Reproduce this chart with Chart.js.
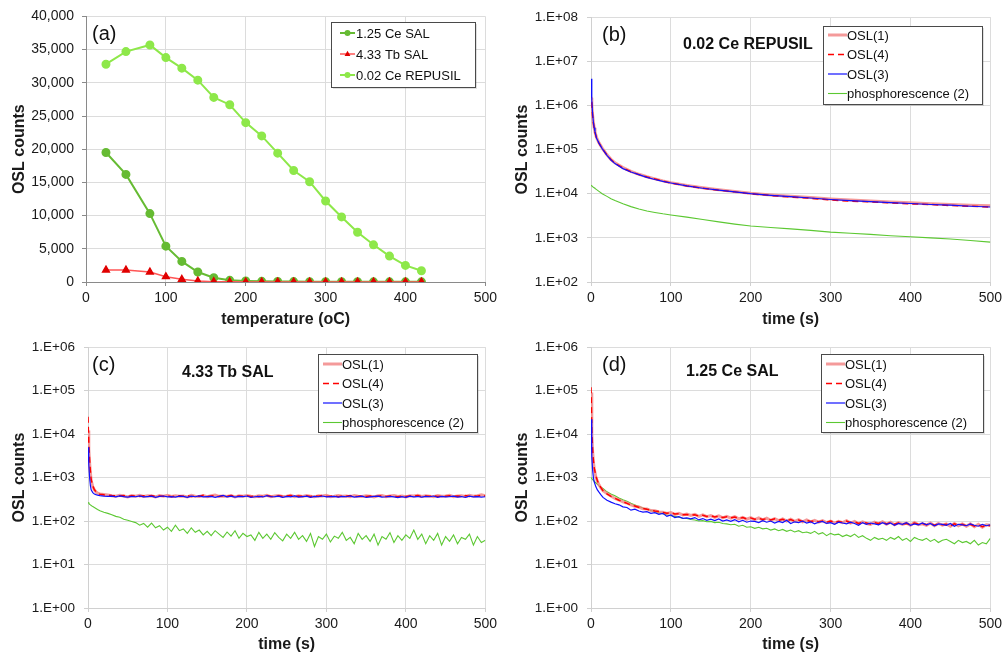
<!DOCTYPE html>
<html>
<head>
<meta charset="utf-8">
<script src="https://cdn.jsdelivr.net/npm/chart.js@4.4.1/dist/chart.umd.min.js"></script>
<style>
  body { margin: 0; background: #fff; width: 1006px; height: 654px; position: relative; overflow: hidden; }
  canvas { position: absolute; }
</style>
</head>
<body>
<canvas id="chartA" width="501" height="330" style="left:0;top:0"></canvas>
<canvas id="chartB" width="503" height="330" style="left:503px;top:0"></canvas>
<canvas id="chartC" width="501" height="324" style="left:0;top:330px"></canvas>
<canvas id="chartD" width="503" height="324" style="left:503px;top:330px"></canvas>
<script>
// ---------- (a) OSL vs temperature ----------
const temps = [25, 50, 80, 100, 120, 140, 160, 180, 200, 220, 240, 260, 280, 300, 320, 340, 360, 380, 400, 420];
const ceSal125 = [19500, 16200, 10300, 5400, 3100, 1500, 650, 250, 150, 100, 80, 60, 50, 40, 30, 30, 20, 20, 20, 20];
const tbSal433 = [1800, 1800, 1500, 800, 400, 150, 50, 20, 10, 5, 0, 0, 0, 0, 0, 0, 0, 0, 0, 0];
const ceRepusil = [32800, 34700, 35700, 33800, 32200, 30400, 27800, 26700, 24000, 22000, 19400, 16800, 15100, 12200, 9800, 7500, 5600, 3900, 2500, 1700];

// ---------- (b) 0.02 Ce REPUSIL decay ----------
const tB = [0, 1, 2, 3, 4, 5, 7, 10, 14, 20, 25, 30, 40, 50, 60, 70, 80, 90, 100, 120, 140, 160, 180, 200,
  225, 250, 275, 300, 325, 350, 375, 400, 425, 450, 475, 500];
const bOsl1 = [1.5e6, 1.0e6, 6e5, 4.1e5, 3.1e5, 2.5e5, 1.85e5, 1.42e5, 1.08e5, 7.6e4, 6e4, 5e4, 3.9e4, 3.2e4, 2.75e4, 2.42e4, 2.17e4, 1.95e4, 1.78e4, 1.53e4, 1.36e4, 1.23e4, 1.12e4, 1.02e4,
  9.4e3, 8.8e3, 8.2e3, 7.6e3, 7.2e3, 6.8e3, 6.5e3, 6.2e3, 5.9e3, 5.7e3, 5.5e3, 5.3e3];
const bOsl4 = [2e6, 1.1e6, 6e5, 4e5, 3e5, 2.45e5, 1.8e5, 1.4e5, 1.06e5, 7.5e4, 5.9e4, 4.9e4, 3.8e4, 3.15e4, 2.7e4, 2.4e4, 2.15e4, 1.92e4, 1.75e4, 1.5e4, 1.33e4, 1.2e4, 1.1e4, 9.9e3,
  9.1e3, 8.4e3, 7.9e3, 7.2e3, 6.8e3, 6.5e3, 6.2e3, 5.9e3, 5.7e3, 5.4e3, 5.2e3, 5.0e3];
const bOsl3 = [4e6, 1.3e6, 6.5e5, 4.2e5, 3.1e5, 2.5e5, 1.8e5, 1.4e5, 1.05e5, 7.4e4, 5.8e4, 4.8e4, 3.7e4, 3.1e4, 2.7e4, 2.35e4, 2.1e4, 1.9e4, 1.75e4, 1.5e4, 1.33e4, 1.2e4, 1.1e4, 1.0e4,
  9.2e3, 8.6e3, 8.0e3, 7.4e3, 7.0e3, 6.6e3, 6.3e3, 6.0e3, 5.7e3, 5.5e3, 5.2e3, 5.0e3];
const bPhos = [1.55e4, 1.5e4, 1.45e4, 1.4e4, 1.36e4, 1.32e4, 1.24e4, 1.13e4, 1.0e4, 8.7e3, 7.7e3, 7.0e3, 5.9e3, 5.1e3, 4.5e3, 4.05e3, 3.75e3, 3.5e3, 3.3e3, 2.95e3, 2.6e3, 2.3e3, 2.05e3, 1.85e3,
  1.72e3, 1.6e3, 1.48e3, 1.35e3, 1.27e3, 1.2e3, 1.12e3, 1.06e3, 1.0e3, 9.4e2, 8.7e2, 8.0e2];

// ---------- shared sample times for (c) and (d) ----------
const tN = [0, 1, 2, 3, 4, 6, 8, 10, 12, 15,
  20, 25, 30, 35, 40, 45, 50, 55, 60, 65, 70, 75, 80, 85, 90, 95, 100, 105, 110, 115,
  120, 125, 130, 135, 140, 145, 150, 155, 160, 165, 170, 175, 180, 185, 190, 195, 200, 205, 210, 215,
  220, 225, 230, 235, 240, 245, 250, 255, 260, 265, 270, 275, 280, 285, 290, 295, 300, 305, 310, 315,
  320, 325, 330, 335, 340, 345, 350, 355, 360, 365, 370, 375, 380, 385, 390, 395, 400, 405, 410, 415,
  420, 425, 430, 435, 440, 445, 450, 455, 460, 465, 470, 475, 480, 485, 490, 495, 500];

// ---------- (c) 4.33 Tb SAL ----------
const cOsl1 = [12000, 4500, 2200, 1300, 850, 620, 520, 470, 440, 420,
  410, 398, 380, 372, 390, 378, 360, 386, 372, 392, 368, 382, 376, 360, 386, 374, 392, 366, 380, 370,
  378, 360, 390, 372, 368, 384, 364, 380, 396, 370, 376, 366, 384, 360, 380, 374, 388, 370, 362, 382,
  372, 390, 364, 378, 384, 368, 374, 392, 362, 380, 366, 384, 372, 360, 380, 376, 390, 364, 372, 386,
  370, 378, 364, 388, 372, 366, 382, 374, 360, 380, 388, 362, 376, 384, 368, 374, 360, 382, 376, 390,
  366, 380, 374, 362, 386, 370, 378, 392, 364, 376, 382, 368, 390, 374, 380, 400, 384];
const cOsl4 = [25000, 6000, 2600, 1400, 900, 640, 530, 470, 440, 415,
  400, 392, 385, 380, 376, 388, 370, 382, 374, 368, 380, 372, 386, 366, 378, 370, 384, 362, 376, 380,
  370, 386, 364, 378, 372, 390, 368, 376, 382, 366, 380, 372, 388, 364, 376, 370, 384, 368, 378, 362,
  374, 386, 370, 366, 380, 372, 376, 388, 364, 378, 370, 382, 366, 376, 372, 386, 368, 374, 380, 364,
  378, 370, 384, 366, 372, 380, 368, 376, 362, 374, 382, 368, 376, 370, 360, 372, 366, 378, 370, 384,
  364, 376, 372, 380, 366, 374, 370, 382, 368, 376, 372, 386, 366, 378, 370, 392, 376];
const cOsl3 = [5000, 2000, 1000, 650, 520, 450, 420, 405, 395, 385,
  375, 368, 372, 360, 378, 365, 355, 370, 362, 380, 358, 366, 372, 350, 368, 376, 360, 364, 355, 372,
  368, 350, 374, 362, 380, 358, 366, 370, 352, 368, 390, 360, 372, 356, 368, 364, 376, 350, 362, 370,
  358, 384, 362, 366, 374, 352, 368, 360, 378, 356, 364, 372, 350, 368, 362, 376, 358, 366, 370, 354,
  368, 362, 380, 356, 364, 372, 348, 360, 368, 374, 356, 362, 370, 358, 344, 364, 350, 372, 360, 366,
  354, 370, 362, 376, 352, 368, 360, 364, 372, 356, 366, 350, 372, 360, 364, 356, 362];
const cPhos = [270, 255, 245, 235, 228, 215, 205, 195, 185, 172,
  160, 150, 140, 128, 122, 110, 104, 98, 92, 80, 88, 72, 90, 70, 78, 62, 72, 58, 80, 60,
  66, 52, 70, 55, 62, 48, 58, 46, 60, 50, 42, 56, 45, 60, 40, 52, 44, 48, 36, 55,
  40, 50, 38, 54, 42, 35, 50, 40, 55, 38, 46, 34, 52, 26, 44, 38, 50, 33, 45, 40,
  55, 36, 42, 30, 52, 38, 46, 34, 50, 28, 44, 38, 54, 32, 46, 36, 48, 40, 62, 38,
  50, 30, 46, 36, 52, 28, 44, 34, 48, 30, 42, 38, 50, 28, 44, 32, 36];

// ---------- (d) 1.25 Ce SAL ----------
const dOsl1 = [90000, 10000, 4000, 2300, 1600, 1050, 820, 680, 590, 500,
  430, 375, 330, 305, 275, 260, 236, 218, 210, 192, 190, 174, 172, 162, 160, 150, 156, 142, 150, 138,
  144, 134, 142, 128, 138, 126, 134, 122, 132, 118, 128, 116, 126, 112, 122, 110, 120, 108, 118, 106,
  116, 104, 114, 102, 112, 100, 110, 98, 108, 96, 106, 96, 104, 94, 102, 92, 100, 90, 98, 92,
  102, 90, 98, 86, 96, 88, 84, 94, 86, 96, 84, 94, 82, 92, 84, 90, 80, 92, 82, 86,
  80, 90, 78, 88, 80, 86, 76, 88, 78, 86, 76, 86, 74, 84, 72, 82, 80];
const dOsl4 = [120000, 12000, 4500, 2500, 1700, 1100, 850, 700, 600, 500,
  420, 370, 335, 300, 280, 255, 232, 222, 205, 196, 186, 178, 170, 166, 158, 152, 154, 146, 148, 140,
  142, 136, 140, 130, 136, 128, 132, 124, 130, 120, 126, 118, 124, 114, 120, 112, 118, 110, 116, 108,
  114, 106, 112, 104, 110, 102, 108, 100, 106, 98, 104, 98, 102, 96, 100, 94, 100, 92, 98, 94,
  100, 92, 96, 88, 94, 90, 86, 92, 88, 94, 86, 92, 84, 90, 86, 88, 82, 90, 84, 88,
  82, 88, 80, 86, 82, 84, 78, 86, 80, 84, 78, 84, 76, 82, 74, 80, 78];
const dOsl3 = [22000, 3000, 1500, 1000, 800, 620, 520, 460, 410, 350,
  300, 272, 250, 236, 212, 205, 178, 188, 170, 160, 164, 150, 156, 142, 150, 128, 138, 120, 126, 115,
  118, 112, 120, 106, 114, 104, 110, 102, 112, 100, 106, 98, 108, 96, 104, 94, 100, 98, 92, 102,
  94, 100, 90, 98, 92, 104, 88, 96, 92, 100, 90, 96, 86, 94, 98, 88, 92, 84, 94, 90,
  86, 94, 88, 80, 92, 84, 90, 86, 82, 92, 84, 90, 80, 88, 84, 92, 80, 86, 82, 90,
  82, 88, 78, 86, 84, 80, 88, 76, 84, 82, 78, 86, 80, 76, 84, 78, 82];
const dPhos = [1000, 950, 900, 860, 820, 760, 700, 650, 610, 560,
  470, 420, 380, 340, 310, 285, 255, 235, 215, 200, 188, 174, 165, 154, 148, 138, 132, 128, 122, 116,
  114, 108, 106, 100, 102, 96, 98, 92, 94, 88, 86, 82, 84, 76, 80, 72, 74, 68, 72, 66,
  68, 62, 66, 60, 64, 58, 62, 56, 60, 54, 56, 52, 58, 50, 54, 46, 52, 48, 50, 44,
  48, 44, 50, 42, 46, 40, 36, 42, 38, 40, 36, 42, 38, 44, 36, 40, 34, 42, 38, 36,
  40, 34, 38, 32, 36, 38, 34, 30, 36, 32, 34, 30, 36, 28, 32, 30, 40];

// log axis ticks
const bTicks = [1e2, 1e3, 1e4, 1e5, 1e6, 1e7, 1e8];
const bTickLabels = ['1.E+02', '1.E+03', '1.E+04', '1.E+05', '1.E+06', '1.E+07', '1.E+08'];
const cdTicks = [1, 1e1, 1e2, 1e3, 1e4, 1e5, 1e6];
const cdTickLabels = ['1.E+00', '1.E+01', '1.E+02', '1.E+03', '1.E+04', '1.E+05', '1.E+06'];

const FONT = '"Liberation Sans", Arial, Helvetica, sans-serif';
Chart.defaults.font.family = FONT;
Chart.defaults.color = '#1a1a1a';

const xy = (xs, ys) => xs.map((x, i) => ({ x: x, y: ys[i] }));

function drawMarker(ctx, style, x, y, r, color) {
    ctx.fillStyle = color;
    ctx.beginPath();
    if (style === 'triangle') {
        ctx.moveTo(x, y - r);
        ctx.lineTo(x + r * 0.9, y + r * 0.6);
        ctx.lineTo(x - r * 0.9, y + r * 0.6);
        ctx.closePath();
    } else {
        ctx.arc(x, y, r, 0, Math.PI * 2);
    }
    ctx.fill();
}

// panel letter, sample title and boxed legend inside the plot area
function makeDecor(cfg) {
    return {
        id: 'decor',
        afterDatasetsDraw(chart) {
            const ctx = chart.ctx, area = chart.chartArea;
            ctx.save();
            ctx.textAlign = 'left';
            ctx.textBaseline = 'middle';
            ctx.fillStyle = '#111';
            ctx.font = '20px ' + FONT;
            ctx.fillText(cfg.letter, area.left + cfg.letterPos[0], area.top + cfg.letterPos[1]);
            if (cfg.title) {
                ctx.font = 'bold 16px ' + FONT;
                ctx.fillText(cfg.title, area.left + cfg.titlePos[0], area.top + cfg.titlePos[1]);
            }
            const lg = cfg.legend;
            const bx = Math.round(area.right + lg.dx - lg.w), by = Math.round(area.top + lg.dy);
            ctx.fillStyle = 'rgba(0,0,0,0.12)';
            ctx.fillRect(bx + 2, by + 2, lg.w, lg.h);
            ctx.fillStyle = '#fff';
            ctx.fillRect(bx, by, lg.w, lg.h);
            ctx.strokeStyle = '#4a4a4a';
            ctx.lineWidth = 1;
            ctx.strokeRect(bx + 0.5, by + 0.5, lg.w, lg.h);
            ctx.font = '13px ' + FONT;
            chart.data.datasets.forEach((ds, i) => {
                const y = by + lg.first + i * lg.step;
                ctx.save();
                ctx.strokeStyle = ds.borderColor;
                ctx.lineWidth = ds.borderWidth;
                ctx.setLineDash(ds.borderDash || []);
                ctx.beginPath();
                ctx.moveTo(bx + lg.s0, y);
                ctx.lineTo(bx + lg.s1, y);
                ctx.stroke();
                ctx.restore();
                if (ds.pointRadius) {
                    drawMarker(ctx, ds.pointStyle, bx + (lg.s0 + lg.s1) / 2, y, ds.pointRadius * 0.85, ds.pointBackgroundColor);
                }
                ctx.fillStyle = '#111';
                ctx.fillText(ds.label, bx + lg.tx, y + 1);
            });
            ctx.restore();
        }
    };
}

function timeXAxis(tickPad, titlePad, h, borderCol) {
    return {
        type: 'linear', min: 0, max: 500,
        afterFit: s => { s.height = h; },
        ticks: { stepSize: 100, padding: tickPad, font: { size: 14 }, maxRotation: 0 },
        grid: { color: '#dcdcdc', tickLength: 4, tickColor: borderCol },
        border: { color: borderCol },
        title: { display: true, text: 'time (s)', font: { size: 16, weight: 'bold' }, padding: { top: 0, bottom: titlePad } }
    };
}

function logYAxis(lo, hi, ticks, labels) {
    return {
        type: 'logarithmic', min: lo, max: hi,
        afterFit: s => { s.width = 88; },
        afterBuildTicks: s => { s.ticks = ticks.map(v => ({ value: v, major: false })); },
        ticks: { padding: 9, font: { size: 13.5 }, callback: v => labels[ticks.indexOf(v)] },
        grid: { color: '#dcdcdc', tickLength: 4, tickColor: '#d0d0d0' },
        border: { color: '#d0d0d0' },
        title: { display: true, text: 'OSL counts', font: { size: 16, weight: 'bold' }, padding: { top: 10, bottom: 0 } }
    };
}

function decayDatasets(ts, o1, o4, o3, ph) {
    return [
        { label: 'OSL(1)', data: xy(ts, o1), borderColor: 'rgba(240,120,120,0.75)', borderWidth: 3, order: 2 },
        { label: 'OSL(4)', data: xy(ts, o4), borderColor: '#ff0000', borderWidth: 1.5, borderDash: [6, 4], order: 1 },
        { label: 'OSL(3)', data: xy(ts, o3), borderColor: '#1010ff', borderWidth: 1.2, order: 0 },
        { label: 'phosphorescence (2)', data: xy(ts, ph), borderColor: '#5cc832', borderWidth: 1.1, order: 3 }
    ];
}

const baseOptions = (padding, scales) => ({
    responsive: false,
    animation: false,
    events: [],
    layout: { padding: padding },
    elements: { point: { radius: 0 }, line: { tension: 0 } },
    plugins: { legend: { display: false }, tooltip: { enabled: false } },
    scales: scales
});

// ---- panel (a)
new Chart(document.getElementById('chartA'), {
    type: 'line',
    data: {
        datasets: [
            { label: '1.25 Ce SAL', data: xy(temps, ceSal125), borderColor: '#66bb33', borderWidth: 2,
              pointRadius: 3.5, pointStyle: 'circle', pointBackgroundColor: '#66bb33', pointBorderColor: '#66bb33', order: 1 },
            { label: '4.33 Tb SAL', data: xy(temps, tbSal433), borderColor: '#ff5555', borderWidth: 1.5,
              pointRadius: 3.8, pointStyle: 'triangle', pointBackgroundColor: '#e00000', pointBorderColor: '#e00000', order: 0 },
            { label: '0.02 Ce REPUSIL', data: xy(temps, ceRepusil), borderColor: '#8ee84a', borderWidth: 2,
              pointRadius: 3.5, pointStyle: 'circle', pointBackgroundColor: '#8ee84a', pointBorderColor: '#8ee84a', order: 2 }
        ]
    },
    options: baseOptions({ top: 15, left: 0, right: 0, bottom: 0 }, {
        x: {
            type: 'linear', min: 0, max: 500,
            afterFit: s => { s.height = 48; },
            ticks: { stepSize: 100, padding: 4, font: { size: 14 }, maxRotation: 0 },
            grid: { color: '#dcdcdc', tickLength: 4, tickColor: '#8a8a8a' },
            border: { color: '#8a8a8a' },
            title: { display: true, text: 'temperature (oC)', font: { size: 16, weight: 'bold' }, padding: { top: 0, bottom: 1 } }
        },
        y: {
            type: 'linear', min: 0, max: 40000,
            afterFit: s => { s.width = 86; },
            ticks: { stepSize: 5000, padding: 8, font: { size: 14 }, callback: v => v.toLocaleString('en-US') },
            grid: { color: '#dcdcdc', tickLength: 4, tickColor: '#8a8a8a' },
            border: { color: '#8a8a8a' },
            title: { display: true, text: 'OSL counts', font: { size: 16, weight: 'bold' }, padding: { top: 10, bottom: 0 } }
        }
    }),
    plugins: [makeDecor({ letter: '(a)', letterPos: [6, 18], legend: { dx: -10, dy: 6, w: 144, h: 65, first: 11, step: 21, s0: 9, s1: 24, tx: 25 } })]
});

// ---- panel (b)
new Chart(document.getElementById('chartB'), {
    type: 'line',
    data: { datasets: decayDatasets(tB, bOsl1, bOsl4, bOsl3, bPhos) },
    options: baseOptions({ top: 15, left: 0, right: 12, bottom: 0 }, {
        x: timeXAxis(4, 1, 48, '#d0d0d0'),
        y: logYAxis(1e2, 1e8, bTicks, bTickLabels)
    }),
    plugins: [makeDecor({ letter: '(b)', letterPos: [11, 18], title: '0.02 Ce REPUSIL', titlePos: [92, 27],
        legend: { dx: -8, dy: 9, w: 159, h: 78, first: 9, step: 19.5, s0: 5, s1: 24, tx: 24 } })]
});

// ---- panel (c)
new Chart(document.getElementById('chartC'), {
    type: 'line',
    data: { datasets: decayDatasets(tN, cOsl1, cOsl4, cOsl3, cPhos) },
    options: baseOptions({ top: 12, left: 0, right: 0, bottom: 0 }, {
        x: timeXAxis(4, 0, 46, '#d0d0d0'),
        y: logYAxis(1, 1e6, cdTicks, cdTickLabels)
    }),
    plugins: [makeDecor({ letter: '(c)', letterPos: [4, 18], title: '4.33 Tb SAL', titlePos: [94, 25],
        legend: { dx: -8, dy: 7, w: 159, h: 78, first: 10, step: 19.5, s0: 5, s1: 24, tx: 24 } })]
});

// ---- panel (d)
new Chart(document.getElementById('chartD'), {
    type: 'line',
    data: { datasets: decayDatasets(tN, dOsl1, dOsl4, dOsl3, dPhos) },
    options: baseOptions({ top: 12, left: 0, right: 12, bottom: 0 }, {
        x: timeXAxis(4, 0, 46, '#d0d0d0'),
        y: logYAxis(1, 1e6, cdTicks, cdTickLabels)
    }),
    plugins: [makeDecor({ letter: '(d)', letterPos: [11, 18], title: '1.25 Ce SAL', titlePos: [95, 24],
        legend: { dx: -7, dy: 7, w: 162, h: 78, first: 10, step: 19.5, s0: 5, s1: 24, tx: 24 } })]
});
</script>
</body>
</html>
